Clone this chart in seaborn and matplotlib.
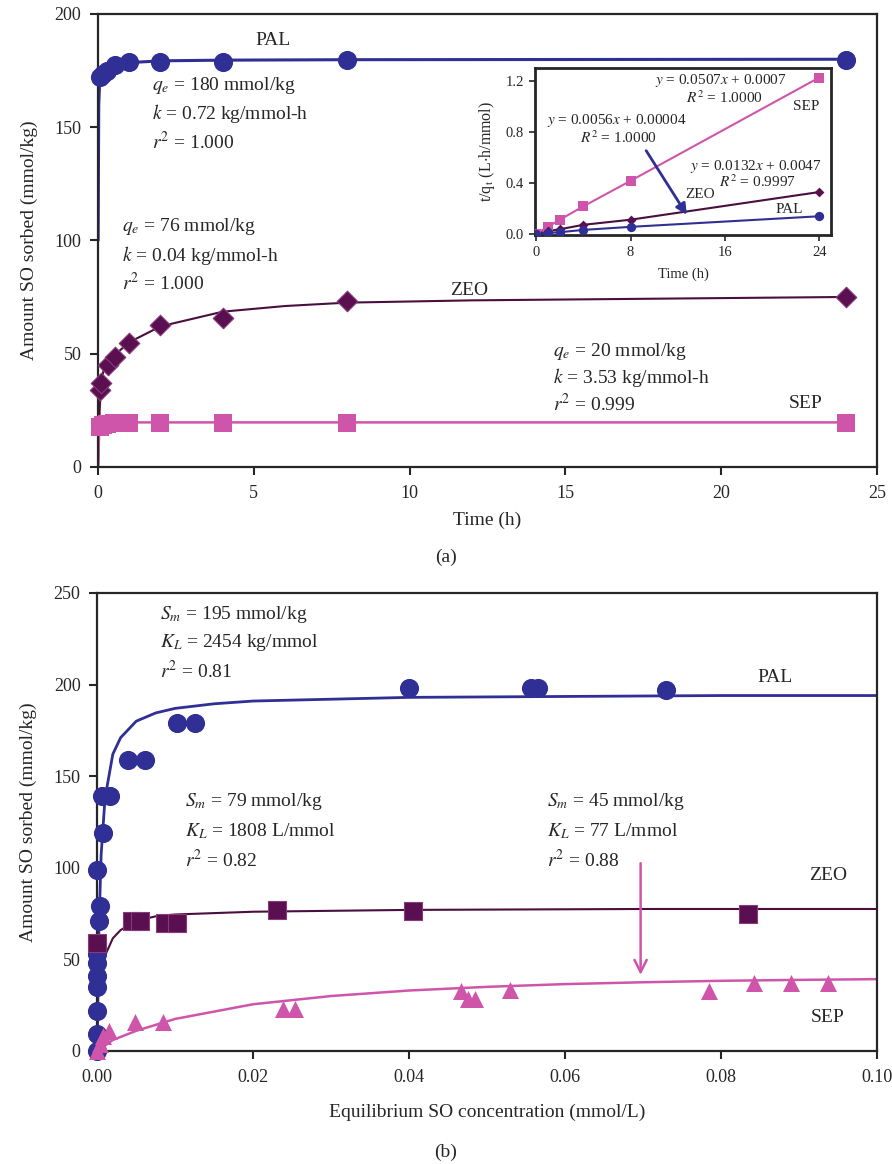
import numpy as np
import pandas as pd
import matplotlib
matplotlib.use("Agg")
import matplotlib.pyplot as plt
import seaborn as sns

# ---- datos (a): cinetica, tiempo (h) vs cantidad sorbida (mmol/kg)
t_pal = [0.07, 0.15, 0.28, 0.55, 1.0, 2.0, 4.0, 8.0, 24.0]
q_pal = [172, 173.5, 175, 177.5, 179, 179, 179, 179.5, 179.5]
t_zeo = [0.06, 0.08, 0.32, 0.55, 1.0, 2.0, 4.0, 8.0, 24.0]
q_zeo = [34, 37, 45, 48.5, 54.5, 62.5, 65.5, 73, 75]
t_sep = [0.07, 0.17, 0.3, 0.5, 0.75, 1.0, 2.0, 4.0, 8.0, 24.0]
q_sep = [17.5, 18.5, 19, 19.3, 19.5, 19.5, 19.5, 19.5, 19.5, 19.5]

# curvas de ajuste
tf_pal = [0.0, 0.02, 0.05, 0.1, 0.25, 0.5, 1, 2, 4, 8, 24]
qf_pal = [100, 160, 170, 173, 175.5, 177.5, 178.5, 179.3, 179.6, 179.8, 180]
tf_zeo = [0.0, 0.05, 0.1, 0.2, 0.5, 1, 2, 4, 6, 8, 12, 24]
qf_zeo = [0, 25, 38, 44, 49, 55, 62, 68.5, 71, 72.5, 73.5, 75]
tf_sep = [0.0, 0.03, 0.07, 0.2, 0.5, 1, 24]
qf_sep = [0, 14, 17.5, 19, 19.4, 19.6, 19.6]

# ---- inset: t/qt vs tiempo
ti = [0.0, 1, 2, 4, 8, 24]
tq_sep = [0.0, 0.055, 0.11, 0.215, 0.415, 1.225]
tq_zeo = [0.0, 0.02, 0.035, 0.07, 0.11, 0.327]
tq_pal = [0.0, 0.006, 0.012, 0.03, 0.054, 0.137]

# ---- datos (b): isotermas
c_pal = [0.0, 0.0, 0.0, 0.0, 0.0, 0.0, 0.0, 0.0, 0.0002, 0.0003, 0.0, 0.0008,
         0.0006, 0.0017, 0.0040, 0.0061, 0.0102, 0.0126, 0.0400, 0.0556, 0.0565, 0.0730]
s_pal = [0, 9, 22, 35, 41, 48, 53, 59, 71, 79, 99, 119,
         139, 139, 159, 159, 179, 179, 198, 198, 198, 197]
c_zeo = [0.0, 0.0044, 0.0055, 0.0087, 0.0102, 0.0230, 0.0405, 0.0835]
s_zeo = [59, 71, 71, 70, 70, 77, 76.5, 75]
c_sep = [0.0, 0.0003, 0.0008, 0.0015, 0.0049, 0.0085, 0.0238, 0.0254,
         0.0466, 0.0476, 0.0484, 0.0530, 0.0785, 0.0842, 0.0890, 0.0937]
s_sep = [0, 4, 8, 11, 16, 16, 23, 23, 33, 28.5, 28.5, 33.5, 33, 37, 37, 37]

cf_pal = [0.0, 0.0002, 0.0005, 0.001, 0.002, 0.003, 0.005, 0.0075, 0.01, 0.015,
          0.02, 0.03, 0.04, 0.06, 0.08, 0.1]
sf_pal = [0, 64, 107, 138, 162, 171, 180, 184.5, 187, 189.5, 191, 192, 193,
          193.5, 194, 194]
cf_zeo = [0.0005, 0.001, 0.002, 0.003, 0.005, 0.0075, 0.01, 0.02, 0.04, 0.07, 0.1]
sf_zeo = [46, 52, 61.5, 66, 71, 73.5, 74.5, 76, 77, 77.5, 77.5]
cf_sep = [0.0, 0.002, 0.005, 0.01, 0.02, 0.03, 0.04, 0.05, 0.06, 0.07, 0.08,
          0.09, 0.1]
sf_sep = [0, 6, 11, 17.5, 25.5, 30, 33, 35, 36.5, 37.5, 38.3, 38.8, 39.2]

BLUE = "#2f2f96"
ZEO = "#5a1050"
ZEO_LINE = "#4a0f3e"
SEP = "#cf55aa"

sns.set_style("ticks")
plt.rcParams["font.family"] = ["Liberation Serif", "DejaVu Serif"]
plt.rcParams["mathtext.fontset"] = "stix"
plt.rcParams["axes.linewidth"] = 1.6

fig = plt.figure(figsize=(8.92, 11.64), dpi=100)
ax1 = fig.add_axes([0.110, 0.599, 0.873, 0.389])
ax2 = fig.add_axes([0.109, 0.0971, 0.874, 0.3935])
axi = fig.add_axes([0.5998, 0.7981, 0.3318, 0.1435])

FS = 14      # textos de anotacion
FT = 13      # ticks
FL = 14      # etiquetas de ejes

# ---------------- panel (a)
sns.lineplot(x=tf_pal, y=qf_pal, ax=ax1, color=BLUE, lw=2.2, estimator=None, sort=False)
sns.lineplot(x=tf_zeo, y=qf_zeo, ax=ax1, color=ZEO_LINE, lw=1.5, estimator=None, sort=False)
sns.lineplot(x=tf_sep, y=qf_sep, ax=ax1, color=SEP, lw=1.8, estimator=None, sort=False)
sns.scatterplot(x=t_pal, y=q_pal, ax=ax1, color=BLUE, marker="o", s=190,
                linewidth=0, zorder=4, clip_on=False)
sns.scatterplot(x=t_zeo, y=q_zeo, ax=ax1, color=ZEO, marker="D", s=110,
                linewidth=0.8, edgecolor="#8a3a7a", zorder=4, clip_on=False)
sns.scatterplot(x=t_sep, y=q_sep, ax=ax1, color=SEP, marker="s", s=170,
                linewidth=0, zorder=4, clip_on=False)

ax1.set_xlim(0, 25)
ax1.set_ylim(0, 200)
ax1.set_xticks(range(0, 26, 5))
ax1.set_yticks(range(0, 201, 50))
ax1.set_xlabel("Time (h)", fontsize=FL, labelpad=7)
ax1.set_ylabel("Amount SO sorbed (mmol/kg)", fontsize=FL, labelpad=12)
ax1.tick_params(labelsize=FT, direction="out", length=6, width=1.5)
ax1.tick_params(axis="x", pad=7)
ax1.tick_params(axis="y", pad=6)

ax1.text(5.6, 188.5, "PAL", fontsize=FS, ha="center", va="center")
for i, s in enumerate([r"$q_e$ = 180 mmol/kg", r"$k$ = 0.72 kg/mmol-h", r"$r^2$ = 1.000"]):
    ax1.text(1.73, 168.6 - 12.5 * i, s, fontsize=FS, va="center")
for i, s in enumerate([r"$q_e$ = 76 mmol/kg", r"$k$ = 0.04 kg/mmol-h", r"$r^2$ = 1.000"]):
    ax1.text(0.77, 106 - 12.5 * i, s, fontsize=FS, va="center")
ax1.text(11.9, 78, "ZEO", fontsize=FS, ha="center", va="center")
for i, s in enumerate([r"$q_e$ = 20 mmol/kg", r"$k$ = 3.53 kg/mmol-h", r"$r^2$ = 0.999"]):
    ax1.text(14.6, 50.8 - 11.5 * i, s, fontsize=FS, va="center")
ax1.text(22.7, 27.8, "SEP", fontsize=FS, ha="center", va="center")

# ---------------- inset
sns.lineplot(x=ti, y=tq_sep, ax=axi, color=SEP, lw=1.5, estimator=None)
sns.lineplot(x=ti, y=tq_zeo, ax=axi, color=ZEO_LINE, lw=1.5, estimator=None)
sns.lineplot(x=ti, y=tq_pal, ax=axi, color=BLUE, lw=1.5, estimator=None)
sns.scatterplot(x=ti, y=tq_sep, ax=axi, color=SEP, marker="s", s=45, linewidth=0, zorder=4)
sns.scatterplot(x=ti, y=tq_zeo, ax=axi, color=ZEO, marker="D", s=25, linewidth=0, zorder=4)
sns.scatterplot(x=ti, y=tq_pal, ax=axi, color=BLUE, marker="o", s=45, linewidth=0, zorder=4)
axi.set_xlim(-0.1, 25)
axi.set_ylim(-0.01, 1.3)
axi.set_xticks([0, 8, 16, 24])
axi.set_yticks([0.0, 0.4, 0.8, 1.2])
axi.set_yticklabels(["0.0", "0.4", "0.8", "1.2"])
axi.tick_params(labelsize=10.5, direction="out", length=4, width=1.2, pad=4)
for sp in axi.spines.values():
    sp.set_linewidth(2)
axi.set_xlabel("Time (h)", fontsize=10.5, labelpad=6)
axi.set_ylabel(r"t/q$_\mathrm{t}$ (L$\cdot$h/mmol)", fontsize=11.5, labelpad=6)
FI = 11
axi.text(15.7, 1.2, r"$y$ = 0.0507$x$ + 0.0007", fontsize=FI, ha="center", va="center")
axi.text(16.0, 1.07, r"$R^2$ = 1.0000", fontsize=FI, ha="center", va="center")
axi.text(22.9, 1.0, "SEP", fontsize=FI, ha="center", va="center")
axi.text(6.8, 0.89, r"$y$ = 0.0056$x$ + 0.00004", fontsize=FI, ha="center", va="center")
axi.text(7.0, 0.75, r"$R^2$ = 1.0000", fontsize=FI, ha="center", va="center")
axi.text(18.6, 0.53, r"$y$ = 0.0132$x$ + 0.0047", fontsize=FI, ha="center", va="center")
axi.text(18.8, 0.41, r"$R^2$ = 0.9997", fontsize=FI, ha="center", va="center")
axi.text(13.9, 0.31, "ZEO", fontsize=FI, ha="center", va="center")
axi.text(21.5, 0.19, "PAL", fontsize=FI, ha="center", va="center")
axi.annotate("", xy=(12.9, 0.13), xytext=(9.2, 0.67),
             arrowprops=dict(arrowstyle="-|>", color=BLUE, lw=2.0, mutation_scale=16))

# ---------------- panel (b)
sns.lineplot(x=cf_pal, y=sf_pal, ax=ax2, color=BLUE, lw=2.0, estimator=None, sort=False)
sns.lineplot(x=cf_zeo, y=sf_zeo, ax=ax2, color=ZEO_LINE, lw=1.5, estimator=None, sort=False)
sns.lineplot(x=cf_sep, y=sf_sep, ax=ax2, color=SEP, lw=1.8, estimator=None, sort=False)
sns.scatterplot(x=c_pal, y=s_pal, ax=ax2, color=BLUE, marker="o", s=190,
                linewidth=0, zorder=4, clip_on=False)
sns.scatterplot(x=c_zeo, y=s_zeo, ax=ax2, color=ZEO, marker="s", s=170,
                linewidth=0.8, edgecolor="#8a3a7a", zorder=4, clip_on=False)
sns.scatterplot(x=c_sep, y=s_sep, ax=ax2, color=SEP, marker="^", s=150,
                linewidth=0, zorder=4, clip_on=False)

ax2.set_xlim(0, 0.1)
ax2.set_ylim(0, 250)
ax2.set_xticks(np.arange(0, 0.101, 0.02))
ax2.set_xticklabels(["0.00", "0.02", "0.04", "0.06", "0.08", "0.10"])
ax2.set_yticks(range(0, 251, 50))
ax2.set_xlabel("Equilibrium SO concentration (mmol/L)", fontsize=FL, labelpad=13)
ax2.set_ylabel("Amount SO sorbed (mmol/kg)", fontsize=FL, labelpad=12)
ax2.tick_params(labelsize=FT, direction="out", length=6, width=1.5)
ax2.tick_params(axis="x", pad=7)
ax2.tick_params(axis="y", pad=6)

for i, s in enumerate([r"$S_m$ = 195 mmol/kg", r"$K_L$ = 2454 kg/mmol", r"$r^2$ = 0.81"]):
    ax2.text(0.0081, 238 - 15.2 * i, s, fontsize=FS, va="center")
for i, s in enumerate([r"$S_m$ = 79 mmol/kg", r"$K_L$ = 1808 L/mmol", r"$r^2$ = 0.82"]):
    ax2.text(0.0113, 136 - 15.8 * i, s, fontsize=FS, va="center")
for i, s in enumerate([r"$S_m$ = 45 mmol/kg", r"$K_L$ = 77 L/mmol", r"$r^2$ = 0.88"]):
    ax2.text(0.0577, 136 - 15.8 * i, s, fontsize=FS, va="center")
ax2.text(0.0869, 203.6, "PAL", fontsize=FS, ha="center", va="center")
ax2.text(0.0937, 96, "ZEO", fontsize=FS, ha="center", va="center")
ax2.text(0.0937, 18, "SEP", fontsize=FS, ha="center", va="center")
ax2.annotate("", xy=(0.0697, 40), xytext=(0.0697, 104),
             arrowprops=dict(arrowstyle="->", color=SEP, lw=1.8, mutation_scale=22))

fig.text(0.5, 1 - 557 / 1164, "(a)", fontsize=FL, ha="center", va="center")
fig.text(0.5, 1 - 1152 / 1164, "(b)", fontsize=FL, ha="center", va="center")

fig.savefig("out.png", dpi=100)
